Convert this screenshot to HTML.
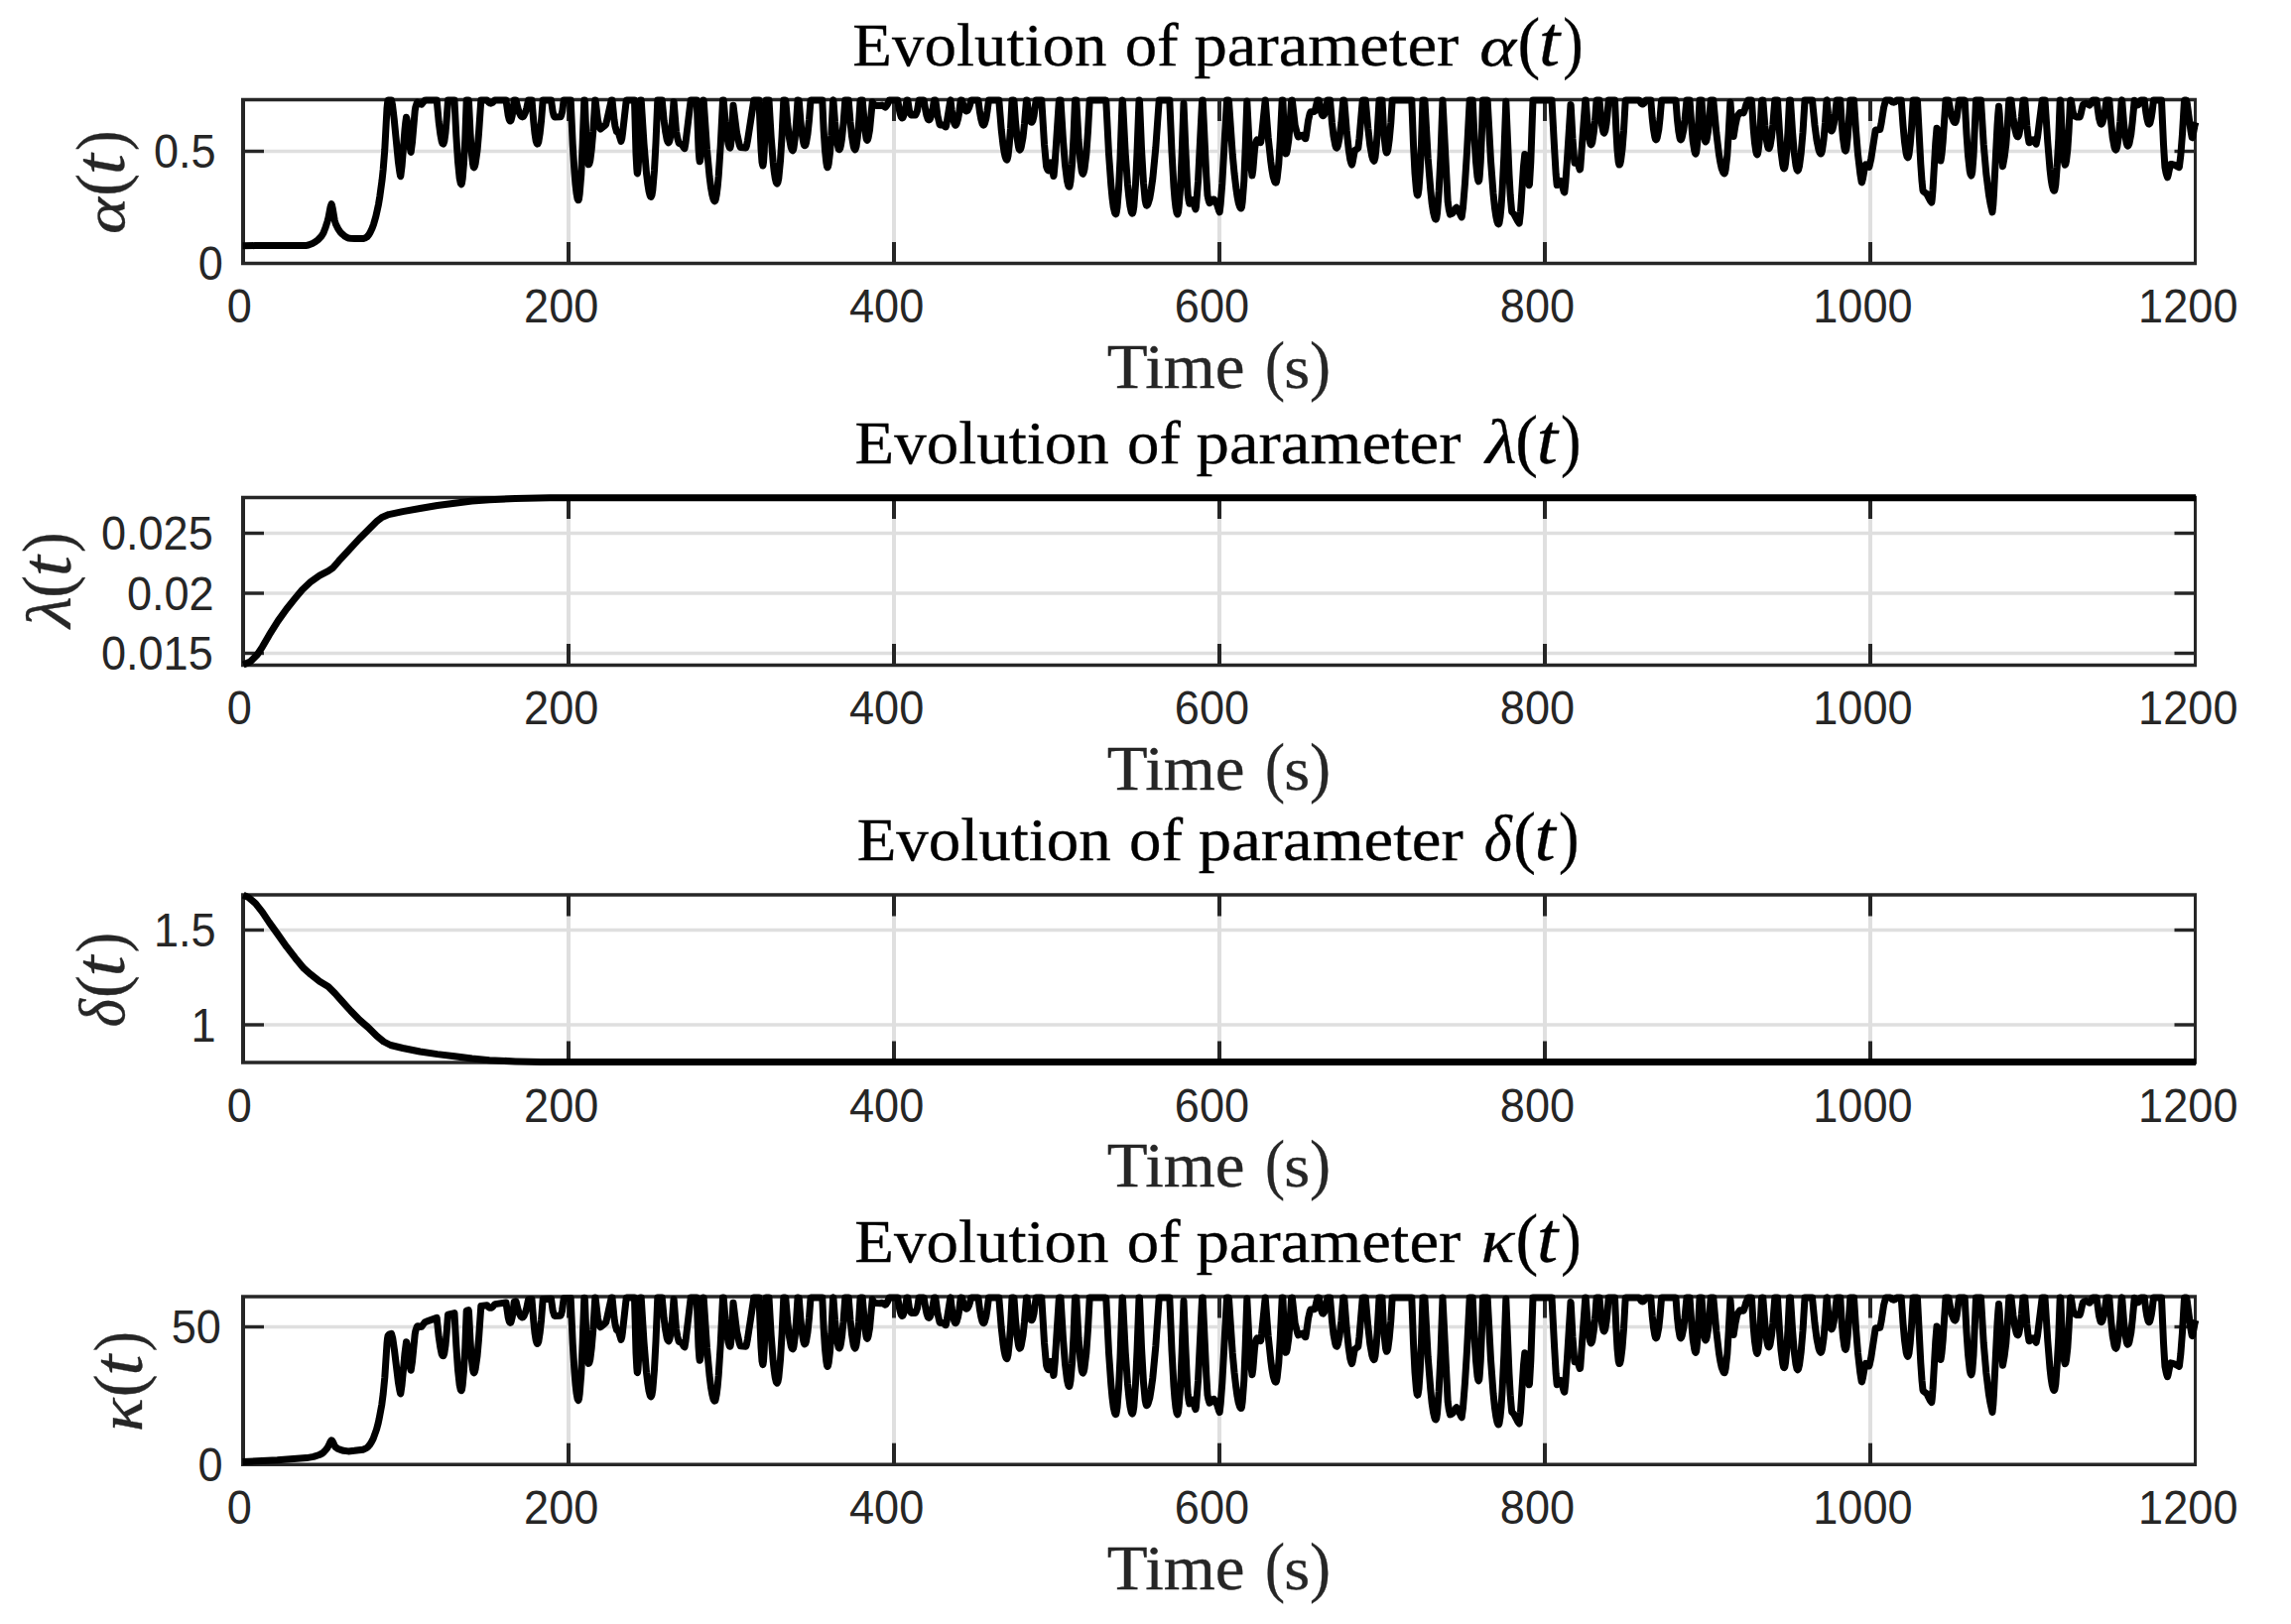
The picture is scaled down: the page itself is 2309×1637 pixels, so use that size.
<!DOCTYPE html>
<html lang="en"><head><meta charset="utf-8"><title>Evolution of parameters</title>
<style>
html,body{margin:0;padding:0;background:#fff;}
body{width:2309px;height:1637px;overflow:hidden;}
svg{display:block;}
text{white-space:pre;}
.tk{font-family:"Liberation Sans","DejaVu Sans",sans-serif;font-size:47.5px;fill:#262626;}
.ser{font-family:"Liberation Serif","DejaVu Serif",serif;}
.it{font-family:"Liberation Serif","DejaVu Serif",serif;font-style:italic;}
.ttl{fill:#000;stroke:#000;stroke-width:0.35;stroke-linejoin:round;}
.lab{fill:#262626;stroke:#262626;stroke-width:0.35;stroke-linejoin:round;}
.axv{stroke:#262626;stroke-width:4.0;fill:none;}
.axh{stroke:#262626;stroke-width:3.4;fill:none;}
.grv{stroke:#dfdfdf;stroke-width:4.0;fill:none;}
.grh{stroke:#dfdfdf;stroke-width:3.4;fill:none;}
.cv{stroke:#000;stroke-width:7.0;fill:none;stroke-linejoin:round;stroke-linecap:butt;}
</style></head><body>
<svg width="2309" height="1637" viewBox="0 0 2309 1637">
<rect width="2309" height="1637" fill="#fff"/>

<g id="ax1">
<line class="grv" x1="573" y1="100.5" x2="573" y2="265.5"/>
<line class="grv" x1="901" y1="100.5" x2="901" y2="265.5"/>
<line class="grv" x1="1229" y1="100.5" x2="1229" y2="265.5"/>
<line class="grv" x1="1557" y1="100.5" x2="1557" y2="265.5"/>
<line class="grv" x1="1885" y1="100.5" x2="1885" y2="265.5"/>
<line class="grh" x1="245.0" y1="152.5" x2="2212.5" y2="152.5"/>
<clipPath id="cp1"><rect x="243.0" y="97.0" width="1973.5" height="172.0"/></clipPath>
<line class="axh" x1="243.0" y1="100.5" x2="2214.0" y2="100.5"/>
<line class="axh" x1="243.0" y1="265.5" x2="2214.0" y2="265.5"/>
<line class="axv" x1="245.0" y1="100.5" x2="245.0" y2="265.5"/>
<line class="axv" style="stroke-width:3" x1="2212.5" y1="100.5" x2="2212.5" y2="265.5"/>
<line class="axv" x1="573" y1="265.5" x2="573" y2="244.0"/>
<line class="axv" x1="573" y1="100.5" x2="573" y2="122.0"/>
<line class="axv" x1="901" y1="265.5" x2="901" y2="244.0"/>
<line class="axv" x1="901" y1="100.5" x2="901" y2="122.0"/>
<line class="axv" x1="1229" y1="265.5" x2="1229" y2="244.0"/>
<line class="axv" x1="1229" y1="100.5" x2="1229" y2="122.0"/>
<line class="axv" x1="1557" y1="265.5" x2="1557" y2="244.0"/>
<line class="axv" x1="1557" y1="100.5" x2="1557" y2="122.0"/>
<line class="axv" x1="1885" y1="265.5" x2="1885" y2="244.0"/>
<line class="axv" x1="1885" y1="100.5" x2="1885" y2="122.0"/>
<line class="axh" x1="245.0" y1="152.5" x2="266.0" y2="152.5"/>
<line class="axh" x1="2212.5" y1="152.5" x2="2191.5" y2="152.5"/>
<polyline class="cv" clip-path="url(#cp1)" points="244.5,247.8 257.0,247.6 308.0,247.6 310.8,247.0 314.8,245.5 317.8,243.8 320.5,241.7 323.8,238.3 325.8,235.2 328.2,228.9 330.0,223.2 331.0,219.4 333.0,208.8 334.0,205.7 334.5,206.8 335.2,209.9 337.2,221.9 338.2,225.4 340.8,230.8 343.2,234.2 345.2,236.2 347.2,237.9 350.0,239.6 351.2,240.1 353.2,240.3 357.8,240.6 365.8,240.6 367.8,240.0 370.0,238.7 371.8,236.5 373.0,234.4 375.0,230.2 376.5,226.3 378.8,218.3 380.2,211.9 381.5,205.9 382.8,198.1 385.0,182.1 386.2,170.8 387.8,150.6 390.0,109.1 390.8,101.6 391.0,100.9 394.5,100.9 395.5,105.7 397.2,119.9 401.5,163.9 402.8,173.4 403.5,177.2 403.8,177.6 405.0,167.9 408.0,130.7 408.8,123.2 409.5,118.2 410.0,119.8 410.8,125.1 413.2,148.6 414.0,153.1 414.2,153.3 415.5,143.3 418.2,111.8 418.8,108.1 420.2,103.8 420.8,103.1 421.0,103.2 423.8,104.9 424.8,105.2 428.0,101.3 430.0,100.9 440.2,100.9 442.2,122.8 443.8,135.1 445.2,142.7 446.0,144.6 446.8,145.1 447.2,144.3 447.8,142.4 449.0,133.8 450.2,119.8 451.5,100.9 458.0,100.9 459.8,136.4 461.5,163.0 463.2,179.8 464.2,184.6 465.0,185.7 465.5,184.6 466.2,179.9 467.5,164.4 468.8,140.0 470.2,100.9 472.2,100.9 472.5,102.6 474.0,134.2 475.2,153.1 476.5,164.8 477.2,168.2 477.8,168.7 478.5,167.5 479.2,164.6 481.0,151.9 482.5,134.6 484.8,100.9 490.8,100.9 492.8,103.3 493.8,103.9 494.8,104.2 496.5,103.4 498.8,100.9 510.0,100.9 512.2,116.4 513.2,120.4 513.8,121.5 514.2,122.0 514.8,121.7 515.2,120.7 516.2,116.6 517.2,110.0 518.2,101.0 520.0,100.9 521.8,108.5 523.2,113.3 525.0,116.8 525.8,117.6 526.5,117.9 527.2,117.6 528.0,116.7 529.5,113.3 530.8,109.0 532.5,100.9 536.0,100.9 537.8,122.6 539.0,134.4 540.2,142.1 541.0,144.5 541.5,145.1 542.0,144.9 542.8,142.9 544.2,134.1 545.5,122.2 547.2,100.9 555.5,100.9 557.2,112.9 558.2,116.5 559.0,117.9 565.0,117.8 565.8,115.9 566.8,111.9 568.2,100.9 575.2,100.9 577.2,145.2 579.0,174.0 580.0,186.1 581.0,194.9 582.0,200.3 582.8,201.8 583.0,201.8 583.5,200.3 584.2,195.3 585.8,175.7 587.2,144.0 588.8,100.9 589.2,100.9 589.5,103.9 590.8,136.5 591.8,154.2 592.5,162.3 593.2,165.7 593.5,165.6 594.0,164.8 594.8,161.9 596.2,150.6 597.8,132.5 599.8,100.9 600.0,100.9 600.2,102.0 602.5,121.2 604.2,128.1 604.8,129.4 605.2,130.0 610.0,126.2 610.8,125.1 616.2,100.9 617.0,100.9 619.0,120.9 620.0,127.4 621.5,132.7 623.5,134.4 626.0,142.4 626.8,139.6 627.5,134.4 631.2,101.4 631.5,100.9 639.5,100.9 641.0,155.2 641.8,170.0 642.2,174.5 642.5,174.8 643.0,171.5 643.8,158.2 645.2,104.1 645.5,100.9 646.2,100.9 649.0,144.6 651.5,174.5 652.8,185.2 654.0,192.8 655.2,197.3 655.8,198.2 656.2,198.4 657.0,196.6 657.8,192.0 659.5,171.7 661.0,144.0 662.8,100.9 667.2,100.9 669.2,121.8 670.8,133.4 672.2,140.8 673.0,142.9 673.8,143.8 674.2,143.5 675.0,141.5 676.2,134.2 677.5,122.4 679.0,102.4 679.2,103.2 681.5,132.3 682.8,139.3 684.2,144.3 684.8,144.7 687.0,145.5 689.2,149.0 690.0,149.6 691.0,143.9 696.2,100.9 702.2,100.9 704.0,149.4 704.8,160.3 705.2,162.8 705.5,162.5 706.0,159.4 706.8,149.5 708.5,103.2 708.8,100.9 709.0,100.9 709.2,101.4 712.5,150.3 715.0,177.5 716.5,189.2 717.8,196.3 719.0,200.9 719.8,202.4 720.2,202.8 720.8,202.4 721.2,201.2 722.2,196.3 723.2,188.4 724.2,177.5 726.2,147.2 728.5,100.9 729.2,100.9 731.0,122.4 732.8,137.8 734.0,144.9 735.0,148.2 735.5,148.9 735.8,149.1 736.0,148.8 736.5,146.5 737.0,141.9 739.0,106.2 742.5,133.6 745.2,146.0 746.2,148.6 751.8,149.1 752.5,146.8 753.5,141.6 759.8,100.9 765.0,100.9 767.0,149.9 768.0,163.4 768.8,167.0 769.0,166.7 769.5,163.5 770.2,152.9 772.2,100.9 775.0,100.9 777.2,138.4 779.2,163.6 780.2,172.8 781.2,179.5 782.2,183.7 782.8,184.7 783.2,185.1 784.0,183.6 784.8,179.7 786.5,162.2 788.0,138.5 789.8,100.9 791.5,100.9 791.8,101.4 793.8,124.7 795.5,139.4 797.2,148.5 798.2,151.1 799.0,151.7 799.5,150.8 800.0,148.9 801.2,139.7 802.5,124.5 804.0,100.9 805.2,101.1 806.8,120.7 808.2,135.1 809.8,143.9 810.5,146.2 811.0,146.8 811.2,146.8 811.8,146.2 812.5,144.0 814.0,135.1 815.5,120.8 817.0,101.2 817.2,100.9 828.8,100.9 830.2,131.9 831.5,151.5 832.8,163.9 833.5,167.8 834.0,168.7 834.5,168.1 835.2,164.9 836.5,154.1 837.8,136.7 839.5,102.0 839.8,100.9 840.0,101.9 841.5,123.0 842.8,136.2 844.0,145.4 845.2,150.2 845.8,150.8 846.0,150.7 846.8,149.3 847.5,146.2 848.5,139.7 850.0,124.9 851.8,100.9 855.2,100.9 857.0,123.0 858.5,137.2 860.2,147.5 861.0,149.8 861.8,150.8 862.2,150.3 863.0,147.8 864.2,139.1 865.5,125.1 867.0,101.7 867.2,100.9 869.2,100.9 871.8,130.9 873.0,139.1 873.5,140.7 874.0,141.2 874.5,140.7 875.2,138.5 876.5,131.2 879.2,102.8 880.5,105.4 881.5,105.9 883.8,106.5 887.0,106.5 889.0,106.1 892.2,108.1 893.0,107.4 894.0,105.9 895.0,104.0 896.2,100.9 904.8,100.9 906.0,109.1 907.0,113.9 908.2,117.8 909.2,119.0 909.8,118.8 910.2,118.1 911.5,114.6 912.5,110.1 914.0,100.9 914.8,100.9 916.5,111.8 917.8,115.0 918.2,115.8 918.8,116.1 922.5,116.0 923.2,114.9 924.5,111.6 926.2,100.9 931.0,100.9 931.2,101.2 932.8,111.0 934.0,116.7 935.2,120.1 935.8,120.7 936.2,120.9 936.8,120.6 937.5,119.5 938.8,115.8 940.0,110.0 941.5,100.9 942.5,100.9 942.8,101.0 945.0,116.7 947.0,125.2 947.5,125.9 950.5,126.0 953.0,128.0 953.2,128.0 953.5,127.2 954.0,124.8 957.8,101.2 958.0,100.9 959.2,111.2 960.5,119.2 961.8,124.3 962.5,125.8 963.0,126.2 963.5,125.9 964.2,124.6 965.5,120.1 966.8,113.0 968.2,101.0 968.5,100.9 969.5,100.9 971.0,106.5 972.0,109.4 973.2,111.5 974.2,112.0 975.2,111.3 976.5,108.9 977.5,105.9 978.8,100.9 985.8,100.9 986.0,101.4 987.5,113.2 988.8,120.3 990.0,124.7 990.8,125.9 991.2,126.2 991.8,125.8 992.5,124.3 993.8,119.6 995.0,112.3 996.5,100.9 1006.8,100.9 1009.2,130.5 1011.0,146.3 1012.0,152.9 1013.0,157.6 1014.0,160.4 1014.8,161.1 1015.2,160.4 1016.0,157.2 1017.2,146.4 1018.5,129.3 1020.0,100.9 1021.8,100.9 1022.0,101.6 1023.5,122.9 1025.0,138.4 1026.5,148.0 1027.2,150.4 1027.8,151.0 1028.5,150.4 1029.2,148.4 1031.0,138.5 1032.5,124.8 1034.5,100.9 1035.0,100.9 1036.5,112.4 1037.8,119.2 1038.8,122.3 1039.2,123.1 1039.8,123.3 1040.2,122.8 1040.8,121.8 1042.0,116.9 1044.2,100.9 1049.8,100.9 1052.5,145.2 1054.5,167.0 1054.8,168.5 1055.5,170.3 1056.2,171.6 1056.8,171.9 1059.2,163.8 1059.8,165.5 1061.8,177.5 1062.0,177.3 1062.2,175.6 1063.2,164.7 1067.2,103.4 1067.5,100.9 1069.0,100.9 1071.5,141.8 1073.5,166.4 1075.5,182.2 1076.5,186.5 1077.0,187.8 1077.5,188.3 1077.8,188.3 1078.2,187.1 1079.0,182.7 1080.5,165.7 1082.0,138.3 1083.5,100.9 1084.8,100.9 1087.0,140.4 1088.8,162.0 1090.2,172.6 1091.0,174.9 1091.5,175.2 1092.2,173.8 1093.0,170.5 1094.8,155.9 1096.5,132.2 1098.2,100.9 1114.5,100.9 1114.8,102.0 1117.5,155.1 1119.8,186.7 1121.0,199.5 1122.2,208.7 1123.5,214.3 1124.0,215.4 1124.5,215.9 1124.8,215.7 1125.2,214.1 1126.0,209.1 1127.5,190.1 1129.0,160.0 1131.0,103.2 1131.2,100.9 1131.5,101.7 1134.2,154.6 1136.5,186.1 1137.8,198.8 1139.0,208.1 1140.2,213.6 1140.8,214.8 1141.2,215.2 1141.5,215.0 1142.0,213.5 1142.8,208.5 1144.5,185.6 1146.0,153.9 1148.0,100.9 1148.2,100.9 1148.5,101.3 1150.5,150.2 1152.5,184.5 1154.2,202.1 1155.0,205.9 1155.5,207.0 1155.8,207.1 1156.5,206.5 1157.2,205.0 1158.8,199.7 1160.2,191.3 1161.8,180.0 1164.8,148.9 1168.2,100.9 1178.8,100.9 1181.0,152.9 1183.0,188.1 1184.0,200.5 1185.0,209.4 1186.0,214.6 1186.8,215.9 1187.5,213.7 1188.2,208.0 1189.8,187.2 1191.2,154.2 1193.0,104.2 1194.8,148.7 1196.5,184.9 1197.2,196.2 1198.0,201.8 1198.8,205.3 1199.5,204.8 1201.2,202.4 1202.0,201.7 1202.8,203.4 1204.2,209.0 1205.0,210.9 1205.5,208.1 1207.5,183.0 1211.5,103.0 1211.8,100.9 1212.2,100.9 1215.8,177.7 1217.0,196.7 1218.0,201.6 1219.0,204.6 1220.0,204.1 1223.0,201.0 1223.5,200.9 1224.2,201.7 1226.5,205.9 1228.5,212.3 1229.2,213.9 1230.2,205.3 1231.8,184.9 1236.5,100.9 1238.2,100.9 1238.5,101.8 1242.2,155.4 1244.0,174.5 1245.8,189.7 1247.0,198.0 1248.2,204.3 1249.5,208.3 1250.2,209.6 1250.8,210.0 1251.0,209.9 1251.5,208.5 1252.2,203.2 1253.8,182.3 1255.2,148.3 1256.8,101.9 1259.2,148.8 1261.0,169.6 1262.0,176.9 1262.8,171.5 1264.5,150.8 1265.0,147.0 1265.5,145.0 1266.2,142.4 1267.0,140.8 1270.2,143.6 1270.5,143.7 1270.8,142.8 1271.5,137.3 1275.2,100.9 1278.2,138.9 1280.8,163.0 1282.0,171.7 1283.2,178.3 1284.5,182.5 1285.2,183.8 1285.8,184.2 1286.0,184.1 1286.5,183.1 1287.2,179.4 1288.8,165.0 1290.2,141.9 1292.2,100.9 1292.8,100.9 1293.0,103.5 1294.5,140.6 1295.2,150.8 1296.0,154.9 1296.5,154.5 1297.2,152.0 1298.8,141.1 1300.0,126.3 1301.5,102.1 1301.8,100.9 1302.2,100.9 1302.5,102.5 1305.2,126.5 1307.8,136.4 1308.5,137.9 1312.5,136.3 1315.5,139.8 1315.8,139.8 1316.0,138.9 1316.5,136.2 1318.5,121.7 1320.2,114.4 1321.0,112.7 1324.8,112.4 1325.0,112.2 1326.2,108.1 1327.8,100.9 1329.2,100.9 1329.5,101.2 1330.5,107.9 1331.5,112.8 1332.5,115.8 1333.0,116.5 1333.5,116.7 1334.5,115.7 1335.8,112.2 1338.0,100.9 1340.5,100.9 1342.5,124.1 1344.0,137.2 1345.8,146.6 1346.5,148.5 1347.2,149.1 1347.8,148.5 1348.5,146.6 1350.0,139.0 1351.8,124.3 1353.8,100.9 1354.5,100.9 1354.8,101.2 1357.2,131.4 1359.2,150.4 1360.8,161.1 1361.8,164.5 1362.5,166.0 1363.2,163.7 1364.8,154.7 1365.5,151.5 1368.5,149.6 1368.8,149.3 1369.0,147.9 1370.0,139.4 1373.2,101.8 1373.5,100.9 1376.2,100.9 1378.8,129.3 1380.8,146.7 1382.8,157.8 1383.8,160.9 1384.8,162.2 1385.2,161.7 1386.0,158.6 1387.2,147.2 1388.2,132.9 1390.0,100.9 1393.0,100.9 1394.2,125.0 1395.2,139.2 1396.5,150.5 1397.0,152.9 1397.5,153.9 1398.0,153.5 1398.8,151.3 1400.2,141.1 1401.8,124.0 1403.2,100.9 1422.8,100.9 1424.5,145.4 1426.0,174.4 1427.5,191.9 1428.2,196.0 1428.8,196.9 1429.2,195.8 1430.0,190.5 1431.2,173.3 1432.5,145.9 1434.0,100.9 1435.8,100.9 1436.0,101.9 1439.2,159.5 1441.8,191.4 1443.2,205.3 1444.5,213.6 1445.8,219.0 1446.5,220.7 1447.0,221.1 1447.2,221.0 1447.8,219.6 1448.5,215.0 1450.2,193.0 1452.0,156.3 1454.0,100.9 1458.8,196.1 1459.2,203.6 1460.2,210.6 1461.5,216.1 1462.8,215.6 1464.2,214.7 1467.2,209.9 1468.0,209.2 1468.2,209.4 1469.5,211.3 1472.5,217.7 1473.2,218.9 1474.5,209.3 1476.5,184.5 1478.5,152.7 1481.2,100.9 1484.2,100.9 1486.2,142.8 1487.5,163.0 1489.0,178.3 1489.8,182.0 1490.2,182.9 1490.8,181.6 1491.2,177.9 1492.2,163.6 1493.2,140.6 1494.5,100.9 1499.0,100.9 1499.2,102.0 1502.5,161.9 1505.0,195.1 1506.5,209.5 1507.8,218.2 1509.0,223.7 1509.8,225.5 1510.2,225.9 1510.5,225.8 1511.0,224.7 1512.0,218.7 1513.0,208.2 1514.0,193.4 1515.8,157.8 1517.8,102.2 1521.0,176.0 1522.2,196.9 1523.5,211.8 1523.8,213.6 1525.8,215.6 1529.8,223.2 1531.2,225.0 1532.5,213.6 1535.5,167.5 1536.8,155.4 1537.2,157.1 1538.0,162.0 1540.5,182.9 1541.2,186.7 1541.5,185.6 1542.8,163.4 1545.0,100.9 1564.0,100.9 1566.5,147.7 1568.2,176.1 1569.0,184.9 1569.2,186.6 1570.0,186.0 1572.2,182.9 1572.8,182.5 1573.0,182.8 1574.0,185.5 1575.8,191.8 1576.2,193.2 1576.8,193.8 1577.8,184.7 1579.5,160.7 1583.0,105.4 1583.2,106.2 1585.0,140.0 1586.8,163.0 1587.0,164.1 1589.0,162.6 1589.5,162.5 1592.2,170.8 1592.5,170.7 1592.8,168.8 1593.2,163.3 1597.8,100.9 1598.2,100.9 1600.0,124.2 1601.2,136.3 1602.5,143.6 1603.0,145.2 1603.5,145.8 1604.0,145.4 1604.8,143.4 1606.2,134.3 1607.5,122.0 1609.0,101.8 1609.2,100.9 1612.0,100.9 1613.5,117.7 1614.5,126.1 1615.8,132.5 1616.2,133.7 1616.8,134.0 1617.2,133.3 1617.8,131.8 1619.0,124.8 1620.0,115.8 1621.2,100.9 1627.5,100.9 1628.8,130.0 1630.0,151.2 1631.2,163.4 1631.8,165.6 1632.0,166.1 1632.2,166.1 1632.8,165.2 1633.5,162.2 1635.0,150.6 1636.5,131.8 1638.2,101.1 1638.5,100.9 1652.0,100.9 1654.0,104.1 1654.8,104.7 1655.5,105.0 1656.2,104.7 1657.0,104.0 1658.8,100.9 1663.8,100.9 1665.2,118.9 1666.5,130.5 1667.8,137.9 1668.5,140.2 1669.0,140.8 1669.5,140.5 1670.2,138.7 1671.8,130.6 1673.0,119.7 1674.5,101.9 1674.8,100.9 1688.8,100.9 1689.0,101.3 1690.5,120.9 1691.8,132.4 1693.0,139.1 1693.5,140.4 1694.0,140.8 1694.5,140.4 1695.2,138.6 1696.8,131.1 1698.0,121.2 1700.0,100.9 1703.0,100.9 1704.8,125.8 1706.2,142.2 1707.8,152.1 1708.5,154.5 1709.0,155.0 1709.5,153.9 1710.0,151.0 1711.0,140.1 1713.0,100.9 1715.0,100.9 1717.0,131.7 1718.0,140.0 1718.5,142.2 1719.0,142.9 1719.5,142.4 1720.2,140.0 1721.5,132.3 1722.8,120.2 1724.2,100.9 1726.8,100.9 1729.8,133.5 1732.5,155.8 1734.0,164.6 1735.2,169.9 1736.8,173.8 1737.5,174.7 1738.0,174.9 1738.5,174.1 1739.2,170.7 1740.8,156.9 1742.2,134.2 1743.8,103.1 1744.0,103.4 1746.0,129.6 1746.8,136.1 1747.0,137.5 1747.2,137.5 1749.0,126.2 1750.5,119.2 1751.2,116.9 1752.8,114.5 1753.8,113.4 1757.2,113.9 1758.0,112.1 1759.8,105.7 1761.8,101.0 1765.2,100.9 1765.5,101.9 1767.2,130.0 1768.5,144.1 1769.8,152.9 1770.5,155.4 1771.0,155.9 1771.5,154.9 1772.0,152.5 1773.0,143.9 1774.2,126.4 1775.5,101.6 1775.8,100.9 1776.8,100.9 1778.8,126.5 1780.2,140.3 1781.5,147.2 1782.2,149.3 1782.8,149.7 1783.2,149.3 1784.0,147.1 1785.5,138.1 1786.8,126.1 1788.8,100.9 1791.5,100.9 1793.5,133.4 1795.0,152.5 1796.8,166.2 1797.5,169.1 1798.0,170.0 1798.2,170.0 1798.8,169.0 1799.5,165.0 1800.8,152.2 1802.0,132.2 1803.5,100.9 1804.5,100.9 1806.5,132.3 1808.2,153.4 1810.0,166.9 1811.0,170.9 1811.8,172.0 1812.5,171.2 1813.5,167.4 1815.2,154.5 1817.0,133.7 1819.0,101.0 1826.5,100.9 1829.0,126.2 1831.0,141.4 1833.0,151.1 1834.0,153.8 1835.0,155.0 1835.2,154.9 1835.8,154.2 1836.5,151.5 1838.0,141.0 1839.5,124.1 1841.0,101.0 1841.2,100.9 1842.5,114.9 1843.8,125.0 1844.8,130.0 1845.2,131.4 1845.8,132.0 1846.2,131.8 1847.0,130.3 1848.2,125.0 1849.5,116.4 1851.2,100.9 1854.8,100.9 1856.2,125.1 1857.5,139.6 1858.8,148.8 1859.5,151.5 1860.0,152.1 1860.5,151.3 1861.0,149.2 1862.2,138.7 1864.8,100.9 1868.5,100.9 1870.5,131.3 1872.5,155.5 1874.8,175.2 1876.0,182.5 1876.2,183.7 1876.5,183.9 1877.5,179.8 1879.5,168.4 1880.2,165.8 1881.0,166.1 1883.8,168.3 1884.2,167.1 1885.8,159.9 1890.2,131.4 1890.5,131.0 1894.8,130.5 1896.0,124.8 1898.5,108.7 1900.5,101.2 1900.8,100.9 1905.0,100.9 1907.0,102.8 1908.5,103.2 1910.0,102.7 1911.8,100.9 1916.2,100.9 1918.0,126.2 1919.5,142.7 1921.2,154.9 1922.0,157.7 1922.8,158.9 1923.2,158.5 1924.0,155.6 1925.2,145.7 1926.5,129.6 1928.2,100.9 1932.2,100.9 1932.5,102.2 1935.8,165.2 1937.0,182.4 1938.0,192.0 1938.5,193.0 1941.8,195.4 1945.2,202.0 1946.8,204.0 1947.2,201.0 1948.0,191.8 1950.8,143.7 1952.0,129.3 1952.2,129.5 1952.8,132.6 1955.0,155.3 1956.0,162.0 1957.0,155.4 1958.2,142.6 1961.0,100.9 1963.8,100.9 1965.8,111.7 1967.2,117.9 1969.0,122.3 1969.8,123.3 1970.5,123.5 1971.2,122.4 1972.2,118.2 1974.5,100.9 1980.0,100.9 1980.2,101.2 1982.0,135.1 1983.5,156.5 1985.2,172.2 1986.0,175.6 1986.8,177.0 1987.2,176.0 1987.8,173.0 1989.0,157.8 1991.5,100.9 1996.5,100.9 1999.2,145.5 2001.8,175.0 2004.5,196.6 2006.0,205.1 2008.0,213.9 2008.8,206.6 2009.5,195.5 2013.0,126.1 2013.8,114.8 2014.5,107.3 2015.2,114.5 2017.5,156.2 2018.5,167.7 2020.2,158.2 2021.8,145.6 2023.2,127.1 2024.8,101.0 2025.0,100.9 2027.0,100.9 2029.0,118.5 2030.5,128.7 2032.2,135.9 2033.0,137.5 2033.8,137.9 2034.2,137.4 2035.0,135.2 2036.2,128.2 2037.5,117.4 2039.0,100.9 2040.8,100.9 2042.8,126.8 2044.0,137.8 2045.0,143.7 2045.2,143.8 2045.8,143.5 2048.0,141.4 2049.0,140.8 2052.2,145.1 2053.5,138.4 2058.2,100.9 2061.0,100.9 2063.8,143.6 2066.0,170.3 2067.2,180.8 2068.2,186.8 2069.2,190.7 2069.8,191.8 2070.2,192.3 2070.5,192.2 2071.0,190.8 2071.8,186.2 2073.2,168.2 2074.8,139.3 2076.2,100.9 2076.8,101.1 2078.0,130.6 2079.2,151.6 2080.2,161.9 2080.8,164.8 2081.2,166.1 2081.8,165.6 2082.5,162.3 2083.8,151.0 2085.0,132.9 2086.5,102.4 2086.8,100.9 2087.2,100.9 2087.5,102.0 2089.0,111.7 2090.0,116.0 2091.8,117.4 2093.2,118.0 2096.0,118.0 2096.2,117.8 2097.0,115.4 2098.8,107.4 2099.5,105.4 2101.2,104.6 2102.8,104.2 2106.0,106.1 2107.5,104.3 2109.2,100.9 2113.0,100.9 2115.5,119.0 2116.8,123.8 2117.2,124.8 2117.8,125.1 2118.2,124.8 2119.0,123.5 2120.2,119.1 2121.5,112.2 2123.0,100.9 2125.8,100.9 2127.8,124.9 2129.2,138.6 2131.0,148.4 2131.8,150.4 2132.5,151.0 2133.0,150.4 2133.8,148.0 2135.2,138.4 2136.8,122.8 2138.2,101.5 2138.5,100.9 2138.8,101.9 2140.5,124.2 2141.8,135.7 2143.2,144.4 2144.0,146.6 2144.5,147.1 2145.2,146.5 2146.0,144.6 2147.8,135.4 2149.2,122.7 2151.2,101.3 2153.0,104.9 2153.8,105.6 2154.5,105.9 2155.2,105.5 2156.0,104.6 2157.8,100.9 2161.2,100.9 2162.8,113.1 2163.8,119.3 2165.0,124.0 2165.5,124.9 2166.0,125.1 2166.5,124.6 2167.0,123.6 2168.2,118.4 2169.2,111.9 2170.5,100.9 2178.5,100.9 2180.5,145.4 2181.8,166.5 2182.0,168.9 2183.0,174.0 2183.8,176.9 2184.5,178.8 2185.2,176.5 2187.0,167.8 2187.8,165.4 2189.0,165.5 2191.8,166.4 2196.0,168.6 2196.2,168.7 2196.5,167.7 2197.8,156.9 2199.5,135.2 2201.5,101.2 2201.8,100.9 2203.5,100.9 2204.2,103.8 2208.0,132.1 2209.2,138.5 2209.5,138.7 2210.0,137.1 2212.0,126.4 2213.0,123.2"/>
<text class="tk" text-anchor="middle" transform="translate(241.2,325.0) scale(0.95,1)">0</text>
<text class="tk" text-anchor="middle" transform="translate(565.7,325.0) scale(0.95,1)">200</text>
<text class="tk" text-anchor="middle" transform="translate(893.6,325.0) scale(0.95,1)">400</text>
<text class="tk" text-anchor="middle" transform="translate(1221.5,325.0) scale(0.95,1)">600</text>
<text class="tk" text-anchor="middle" transform="translate(1549.5,325.0) scale(0.95,1)">800</text>
<text class="tk" text-anchor="middle" transform="translate(1877.4,325.0) scale(0.95,1)">1000</text>
<text class="tk" text-anchor="middle" transform="translate(2205.3,325.0) scale(0.95,1)">1200</text>
<text class="tk" text-anchor="end" transform="translate(217.6,169.1) scale(0.95,1)">0.5</text>
<text class="tk" text-anchor="end" transform="translate(224.8,282.1) scale(0.95,1)">0</text>
<text class="ser ttl" y="65.90"><tspan x="859.35" font-size="61.5" textLength="256.09" lengthAdjust="spacingAndGlyphs">Evolution</tspan> <tspan x="1133.71" font-size="61.5" textLength="53.96" lengthAdjust="spacingAndGlyphs">of</tspan> <tspan x="1203.40" font-size="61.5" textLength="266.87" lengthAdjust="spacingAndGlyphs">parameter</tspan> <tspan class="it" x="1491.19" font-size="58" textLength="36.85" lengthAdjust="spacingAndGlyphs">α</tspan><tspan x="1529.53" font-size="70" textLength="22.72" lengthAdjust="spacingAndGlyphs">(</tspan><tspan class="it" x="1550.98" font-size="72" textLength="21.15" lengthAdjust="spacingAndGlyphs">t</tspan><tspan x="1575.27" font-size="70" textLength="20.36" lengthAdjust="spacingAndGlyphs">)</tspan></text>
<text class="ser lab" y="390.90"><tspan x="1115.66" font-size="62.5" textLength="138.78" lengthAdjust="spacingAndGlyphs">Time</tspan> <tspan x="1274.90" font-size="68.5" textLength="19.98" lengthAdjust="spacingAndGlyphs">(</tspan><tspan x="1294.23" font-size="61.5" textLength="25.93" lengthAdjust="spacingAndGlyphs">s</tspan><tspan x="1320.01" font-size="68.5" textLength="21.00" lengthAdjust="spacingAndGlyphs">)</tspan></text>
<text class="ser lab" y="0" transform="translate(125,233.9) rotate(-90)"><tspan class="it" x="-2.11" font-size="58" textLength="36.85" lengthAdjust="spacingAndGlyphs">α</tspan><tspan x="36.23" font-size="70" textLength="22.72" lengthAdjust="spacingAndGlyphs">(</tspan><tspan class="it" x="57.68" font-size="72" textLength="21.15" lengthAdjust="spacingAndGlyphs">t</tspan><tspan x="81.97" font-size="70" textLength="20.36" lengthAdjust="spacingAndGlyphs">)</tspan></text>
</g>
<g id="ax2">
<line class="grv" x1="573" y1="501.5" x2="573" y2="670.5"/>
<line class="grv" x1="901" y1="501.5" x2="901" y2="670.5"/>
<line class="grv" x1="1229" y1="501.5" x2="1229" y2="670.5"/>
<line class="grv" x1="1557" y1="501.5" x2="1557" y2="670.5"/>
<line class="grv" x1="1885" y1="501.5" x2="1885" y2="670.5"/>
<line class="grh" x1="245.0" y1="537.5" x2="2212.5" y2="537.5"/>
<line class="grh" x1="245.0" y1="598.0" x2="2212.5" y2="598.0"/>
<line class="grh" x1="245.0" y1="658.5" x2="2212.5" y2="658.5"/>
<clipPath id="cp2"><rect x="243.0" y="498.0" width="1973.5" height="176.0"/></clipPath>
<line class="axh" x1="243.0" y1="501.5" x2="2214.0" y2="501.5"/>
<line class="axh" x1="243.0" y1="670.5" x2="2214.0" y2="670.5"/>
<line class="axv" x1="245.0" y1="501.5" x2="245.0" y2="670.5"/>
<line class="axv" style="stroke-width:3" x1="2212.5" y1="501.5" x2="2212.5" y2="670.5"/>
<line class="axv" x1="573" y1="670.5" x2="573" y2="649.0"/>
<line class="axv" x1="573" y1="501.5" x2="573" y2="523.0"/>
<line class="axv" x1="901" y1="670.5" x2="901" y2="649.0"/>
<line class="axv" x1="901" y1="501.5" x2="901" y2="523.0"/>
<line class="axv" x1="1229" y1="670.5" x2="1229" y2="649.0"/>
<line class="axv" x1="1229" y1="501.5" x2="1229" y2="523.0"/>
<line class="axv" x1="1557" y1="670.5" x2="1557" y2="649.0"/>
<line class="axv" x1="1557" y1="501.5" x2="1557" y2="523.0"/>
<line class="axv" x1="1885" y1="670.5" x2="1885" y2="649.0"/>
<line class="axv" x1="1885" y1="501.5" x2="1885" y2="523.0"/>
<line class="axh" x1="245.0" y1="537.5" x2="266.0" y2="537.5"/>
<line class="axh" x1="2212.5" y1="537.5" x2="2191.5" y2="537.5"/>
<line class="axh" x1="245.0" y1="598.0" x2="266.0" y2="598.0"/>
<line class="axh" x1="2212.5" y1="598.0" x2="2191.5" y2="598.0"/>
<line class="axh" x1="245.0" y1="658.5" x2="266.0" y2="658.5"/>
<line class="axh" x1="2212.5" y1="658.5" x2="2191.5" y2="658.5"/>
<polyline class="cv" clip-path="url(#cp2)" points="245.2,669.9 252.2,667.0 259.2,660.0 264.4,652.1 271.4,639.9 280.2,625.9 288.9,613.7 297.6,602.9 304.6,594.5 313.3,586.3 322.1,580.2 330.8,575.7 335.2,572.7 341.3,565.7 351.7,554.4 362.2,543.0 372.7,532.5 379.7,525.6 384.9,521.5 391.9,518.6 405.9,515.6 423.3,512.5 440.8,509.5 458.2,507.2 475.7,505.1 493.2,503.7 519.4,502.5 554.3,501.8 2213.0,501.8"/>
<text class="tk" text-anchor="middle" transform="translate(241.2,730.0) scale(0.95,1)">0</text>
<text class="tk" text-anchor="middle" transform="translate(565.7,730.0) scale(0.95,1)">200</text>
<text class="tk" text-anchor="middle" transform="translate(893.6,730.0) scale(0.95,1)">400</text>
<text class="tk" text-anchor="middle" transform="translate(1221.5,730.0) scale(0.95,1)">600</text>
<text class="tk" text-anchor="middle" transform="translate(1549.5,730.0) scale(0.95,1)">800</text>
<text class="tk" text-anchor="middle" transform="translate(1877.4,730.0) scale(0.95,1)">1000</text>
<text class="tk" text-anchor="middle" transform="translate(2205.3,730.0) scale(0.95,1)">1200</text>
<text class="tk" text-anchor="end" transform="translate(214.8,554.1) scale(0.95,1)">0.025</text>
<text class="tk" text-anchor="end" transform="translate(215.7,614.6) scale(0.95,1)">0.02</text>
<text class="tk" text-anchor="end" transform="translate(214.8,675.1) scale(0.95,1)">0.015</text>
<text class="ser ttl" y="466.90"><tspan x="861.55" font-size="61.5" textLength="256.09" lengthAdjust="spacingAndGlyphs">Evolution</tspan> <tspan x="1135.91" font-size="61.5" textLength="53.96" lengthAdjust="spacingAndGlyphs">of</tspan> <tspan x="1205.60" font-size="61.5" textLength="266.87" lengthAdjust="spacingAndGlyphs">parameter</tspan> <tspan class="it" x="1497.30" font-size="63" textLength="31.26" lengthAdjust="spacingAndGlyphs">λ</tspan><tspan x="1527.33" font-size="70" textLength="22.72" lengthAdjust="spacingAndGlyphs">(</tspan><tspan class="it" x="1548.78" font-size="72" textLength="21.15" lengthAdjust="spacingAndGlyphs">t</tspan><tspan x="1573.07" font-size="70" textLength="20.36" lengthAdjust="spacingAndGlyphs">)</tspan></text>
<text class="ser lab" y="795.90"><tspan x="1115.66" font-size="62.5" textLength="138.78" lengthAdjust="spacingAndGlyphs">Time</tspan> <tspan x="1274.90" font-size="68.5" textLength="19.98" lengthAdjust="spacingAndGlyphs">(</tspan><tspan x="1294.23" font-size="61.5" textLength="25.93" lengthAdjust="spacingAndGlyphs">s</tspan><tspan x="1320.01" font-size="68.5" textLength="21.00" lengthAdjust="spacingAndGlyphs">)</tspan></text>
<text class="ser lab" y="0" transform="translate(71,634.5) rotate(-90)"><tspan class="it" x="1.80" font-size="63" textLength="31.26" lengthAdjust="spacingAndGlyphs">λ</tspan><tspan x="31.83" font-size="70" textLength="22.72" lengthAdjust="spacingAndGlyphs">(</tspan><tspan class="it" x="53.28" font-size="72" textLength="21.15" lengthAdjust="spacingAndGlyphs">t</tspan><tspan x="77.57" font-size="70" textLength="20.36" lengthAdjust="spacingAndGlyphs">)</tspan></text>
</g>
<g id="ax3">
<line class="grv" x1="573" y1="902.0" x2="573" y2="1071.0"/>
<line class="grv" x1="901" y1="902.0" x2="901" y2="1071.0"/>
<line class="grv" x1="1229" y1="902.0" x2="1229" y2="1071.0"/>
<line class="grv" x1="1557" y1="902.0" x2="1557" y2="1071.0"/>
<line class="grv" x1="1885" y1="902.0" x2="1885" y2="1071.0"/>
<line class="grh" x1="245.0" y1="937.5" x2="2212.5" y2="937.5"/>
<line class="grh" x1="245.0" y1="1033.0" x2="2212.5" y2="1033.0"/>
<clipPath id="cp3"><rect x="243.0" y="898.5" width="1973.5" height="176.0"/></clipPath>
<line class="axh" x1="243.0" y1="902.0" x2="2214.0" y2="902.0"/>
<line class="axh" x1="243.0" y1="1071.0" x2="2214.0" y2="1071.0"/>
<line class="axv" x1="245.0" y1="902.0" x2="245.0" y2="1071.0"/>
<line class="axv" style="stroke-width:3" x1="2212.5" y1="902.0" x2="2212.5" y2="1071.0"/>
<line class="axv" x1="573" y1="1071.0" x2="573" y2="1049.5"/>
<line class="axv" x1="573" y1="902.0" x2="573" y2="923.5"/>
<line class="axv" x1="901" y1="1071.0" x2="901" y2="1049.5"/>
<line class="axv" x1="901" y1="902.0" x2="901" y2="923.5"/>
<line class="axv" x1="1229" y1="1071.0" x2="1229" y2="1049.5"/>
<line class="axv" x1="1229" y1="902.0" x2="1229" y2="923.5"/>
<line class="axv" x1="1557" y1="1071.0" x2="1557" y2="1049.5"/>
<line class="axv" x1="1557" y1="902.0" x2="1557" y2="923.5"/>
<line class="axv" x1="1885" y1="1071.0" x2="1885" y2="1049.5"/>
<line class="axv" x1="1885" y1="902.0" x2="1885" y2="923.5"/>
<line class="axh" x1="245.0" y1="937.5" x2="266.0" y2="937.5"/>
<line class="axh" x1="2212.5" y1="937.5" x2="2191.5" y2="937.5"/>
<line class="axh" x1="245.0" y1="1033.0" x2="266.0" y2="1033.0"/>
<line class="axh" x1="2212.5" y1="1033.0" x2="2191.5" y2="1033.0"/>
<polyline class="cv" clip-path="url(#cp3)" points="245.2,902.3 250.5,904.6 257.5,910.7 264.4,919.4 271.4,929.9 280.2,942.1 288.9,954.4 297.6,965.7 306.3,976.2 313.3,982.3 322.1,989.3 330.8,994.5 337.8,1001.5 344.8,1009.4 353.5,1019.0 362.2,1028.0 370.9,1035.5 379.7,1044.3 386.7,1050.0 393.6,1053.5 405.9,1056.5 423.3,1060.0 440.8,1062.6 458.2,1064.7 475.7,1067.0 493.2,1068.7 519.4,1069.9 545.5,1070.6 2213.0,1070.6"/>
<text class="tk" text-anchor="middle" transform="translate(241.2,1130.5) scale(0.95,1)">0</text>
<text class="tk" text-anchor="middle" transform="translate(565.7,1130.5) scale(0.95,1)">200</text>
<text class="tk" text-anchor="middle" transform="translate(893.6,1130.5) scale(0.95,1)">400</text>
<text class="tk" text-anchor="middle" transform="translate(1221.5,1130.5) scale(0.95,1)">600</text>
<text class="tk" text-anchor="middle" transform="translate(1549.5,1130.5) scale(0.95,1)">800</text>
<text class="tk" text-anchor="middle" transform="translate(1877.4,1130.5) scale(0.95,1)">1000</text>
<text class="tk" text-anchor="middle" transform="translate(2205.3,1130.5) scale(0.95,1)">1200</text>
<text class="tk" text-anchor="end" transform="translate(217.6,954.1) scale(0.95,1)">1.5</text>
<text class="tk" text-anchor="end" transform="translate(217.6,1049.6) scale(0.95,1)">1</text>
<text class="ser ttl" y="867.40"><tspan x="863.70" font-size="61.5" textLength="256.09" lengthAdjust="spacingAndGlyphs">Evolution</tspan> <tspan x="1138.06" font-size="61.5" textLength="53.96" lengthAdjust="spacingAndGlyphs">of</tspan> <tspan x="1207.75" font-size="61.5" textLength="266.87" lengthAdjust="spacingAndGlyphs">parameter</tspan> <tspan class="it" x="1495.84" font-size="66" textLength="28.00" lengthAdjust="spacingAndGlyphs">δ</tspan><tspan x="1525.18" font-size="70" textLength="22.72" lengthAdjust="spacingAndGlyphs">(</tspan><tspan class="it" x="1546.63" font-size="72" textLength="21.15" lengthAdjust="spacingAndGlyphs">t</tspan><tspan x="1570.92" font-size="70" textLength="20.36" lengthAdjust="spacingAndGlyphs">)</tspan></text>
<text class="ser lab" y="1196.40"><tspan x="1115.66" font-size="62.5" textLength="138.78" lengthAdjust="spacingAndGlyphs">Time</tspan> <tspan x="1274.90" font-size="68.5" textLength="19.98" lengthAdjust="spacingAndGlyphs">(</tspan><tspan x="1294.23" font-size="61.5" textLength="25.93" lengthAdjust="spacingAndGlyphs">s</tspan><tspan x="1320.01" font-size="68.5" textLength="21.00" lengthAdjust="spacingAndGlyphs">)</tspan></text>
<text class="ser lab" y="0" transform="translate(125,1033.4) rotate(-90)"><tspan class="it" x="-1.81" font-size="66" textLength="28.00" lengthAdjust="spacingAndGlyphs">δ</tspan><tspan x="27.53" font-size="70" textLength="22.72" lengthAdjust="spacingAndGlyphs">(</tspan><tspan class="it" x="48.98" font-size="72" textLength="21.15" lengthAdjust="spacingAndGlyphs">t</tspan><tspan x="73.27" font-size="70" textLength="20.36" lengthAdjust="spacingAndGlyphs">)</tspan></text>
</g>
<g id="ax4">
<line class="grv" x1="573" y1="1307.0" x2="573" y2="1476.2"/>
<line class="grv" x1="901" y1="1307.0" x2="901" y2="1476.2"/>
<line class="grv" x1="1229" y1="1307.0" x2="1229" y2="1476.2"/>
<line class="grv" x1="1557" y1="1307.0" x2="1557" y2="1476.2"/>
<line class="grv" x1="1885" y1="1307.0" x2="1885" y2="1476.2"/>
<line class="grh" x1="245.0" y1="1337.5" x2="2212.5" y2="1337.5"/>
<clipPath id="cp4"><rect x="243.0" y="1303.5" width="1973.5" height="176.20000000000005"/></clipPath>
<line class="axh" x1="243.0" y1="1307.0" x2="2214.0" y2="1307.0"/>
<line class="axh" x1="243.0" y1="1476.2" x2="2214.0" y2="1476.2"/>
<line class="axv" x1="245.0" y1="1307.0" x2="245.0" y2="1476.2"/>
<line class="axv" style="stroke-width:3" x1="2212.5" y1="1307.0" x2="2212.5" y2="1476.2"/>
<line class="axv" x1="573" y1="1476.2" x2="573" y2="1454.7"/>
<line class="axv" x1="573" y1="1307.0" x2="573" y2="1328.5"/>
<line class="axv" x1="901" y1="1476.2" x2="901" y2="1454.7"/>
<line class="axv" x1="901" y1="1307.0" x2="901" y2="1328.5"/>
<line class="axv" x1="1229" y1="1476.2" x2="1229" y2="1454.7"/>
<line class="axv" x1="1229" y1="1307.0" x2="1229" y2="1328.5"/>
<line class="axv" x1="1557" y1="1476.2" x2="1557" y2="1454.7"/>
<line class="axv" x1="1557" y1="1307.0" x2="1557" y2="1328.5"/>
<line class="axv" x1="1885" y1="1476.2" x2="1885" y2="1454.7"/>
<line class="axv" x1="1885" y1="1307.0" x2="1885" y2="1328.5"/>
<line class="axh" x1="245.0" y1="1337.5" x2="266.0" y2="1337.5"/>
<line class="axh" x1="2212.5" y1="1337.5" x2="2191.5" y2="1337.5"/>
<polyline class="cv" clip-path="url(#cp4)" points="244.5,1473.6 279.5,1471.8 309.0,1469.6 316.0,1468.4 321.8,1466.5 324.8,1465.0 326.0,1464.0 328.2,1461.7 330.0,1459.3 331.0,1457.6 333.0,1453.2 334.0,1451.8 334.5,1452.1 335.5,1453.5 337.5,1457.9 338.8,1459.2 340.2,1460.2 341.8,1460.9 346.2,1462.3 351.0,1462.9 357.2,1462.3 365.8,1461.2 369.5,1459.6 370.8,1458.6 372.5,1456.6 374.5,1453.4 376.2,1450.1 379.5,1440.9 381.2,1434.5 382.2,1429.8 384.8,1415.8 386.2,1405.0 387.8,1388.5 390.0,1354.2 390.5,1349.3 391.0,1346.6 392.5,1344.8 394.5,1344.3 395.8,1349.2 397.5,1361.0 401.5,1394.0 402.8,1401.5 403.5,1404.5 403.8,1404.8 405.0,1396.4 408.0,1364.1 409.5,1352.8 409.8,1353.0 410.0,1353.9 410.8,1358.2 413.2,1377.5 414.0,1381.1 414.2,1381.2 415.5,1372.5 418.2,1344.9 418.8,1341.6 420.2,1337.5 420.8,1336.8 421.0,1336.7 423.8,1337.4 424.8,1337.3 428.0,1333.0 429.8,1332.1 440.2,1328.4 442.2,1347.6 443.8,1358.3 445.2,1364.9 446.0,1366.5 446.5,1366.8 446.8,1366.8 447.2,1365.9 447.8,1364.1 449.0,1356.0 450.2,1342.8 451.5,1325.1 458.0,1323.6 459.8,1356.3 461.5,1380.9 463.2,1396.3 464.2,1400.7 464.8,1401.6 465.0,1401.7 465.5,1400.6 466.2,1396.1 467.5,1381.4 468.8,1358.3 470.2,1321.1 472.2,1320.6 472.5,1322.1 474.0,1351.7 475.2,1369.3 476.5,1380.3 477.2,1383.3 477.8,1383.8 478.5,1382.5 479.2,1379.6 481.0,1366.9 482.5,1349.9 484.8,1316.5 490.8,1315.7 492.8,1317.8 493.8,1318.3 494.8,1318.3 496.5,1317.4 498.8,1314.6 510.0,1313.0 512.2,1328.1 513.2,1332.0 513.8,1333.0 514.2,1333.4 514.8,1333.1 515.2,1332.0 516.2,1327.9 517.2,1321.2 518.2,1312.1 520.0,1311.7 521.8,1319.1 523.2,1323.7 525.0,1327.0 525.8,1327.7 526.5,1328.0 527.2,1327.6 528.0,1326.6 529.5,1323.0 530.8,1318.4 532.5,1310.0 534.8,1309.8 536.0,1309.7 537.8,1331.7 539.0,1343.6 540.2,1351.3 541.0,1353.8 541.5,1354.4 542.0,1354.1 542.8,1352.2 544.2,1343.2 545.5,1331.1 547.2,1309.4 555.5,1309.2 557.2,1321.3 558.8,1326.2 559.0,1326.4 564.8,1326.2 565.0,1326.1 565.5,1325.0 566.5,1321.3 568.2,1308.8 575.2,1308.6 577.2,1353.7 579.0,1383.1 580.0,1395.5 581.0,1404.4 582.0,1409.9 582.8,1411.5 583.0,1411.4 583.5,1409.9 584.2,1404.8 585.8,1384.7 587.2,1352.3 588.8,1308.2 589.2,1308.2 589.5,1311.3 590.8,1344.6 591.8,1362.7 592.5,1371.0 593.2,1374.4 593.5,1374.3 594.0,1373.4 594.8,1370.4 596.2,1358.9 597.8,1340.3 599.8,1307.9 600.0,1307.9 600.2,1309.0 602.5,1328.7 604.2,1335.8 604.8,1337.1 605.2,1337.7 610.0,1333.8 610.8,1332.7 616.2,1307.9 617.0,1307.9 619.0,1328.3 620.0,1335.0 621.5,1340.5 623.5,1342.2 626.0,1350.4 626.8,1347.5 627.5,1342.2 631.2,1308.4 631.5,1307.9 639.5,1307.9 641.0,1363.5 641.8,1378.7 642.2,1383.3 642.5,1383.6 643.0,1380.3 643.8,1366.6 645.2,1311.2 645.5,1307.9 646.2,1307.9 649.0,1352.6 651.5,1383.3 652.8,1394.2 654.0,1402.1 655.2,1406.7 655.8,1407.6 656.2,1407.8 657.0,1405.9 657.8,1401.2 659.5,1380.4 661.0,1352.1 662.8,1307.9 667.2,1307.9 669.2,1329.3 670.8,1341.2 672.2,1348.8 673.0,1350.9 673.8,1351.9 674.2,1351.6 675.0,1349.5 676.2,1342.0 677.5,1329.9 679.0,1309.5 679.2,1310.2 681.5,1340.0 682.8,1347.2 684.2,1352.4 684.8,1352.7 687.0,1353.5 689.2,1357.2 690.0,1357.8 691.0,1351.9 696.2,1307.9 702.2,1307.9 704.0,1357.5 704.8,1368.7 705.2,1371.3 705.5,1371.0 706.0,1367.9 706.8,1357.7 708.5,1310.2 708.8,1307.9 709.0,1307.9 709.2,1308.4 712.5,1358.5 715.0,1386.3 716.5,1398.4 717.8,1405.7 719.0,1410.4 719.8,1411.8 720.2,1412.2 720.8,1411.9 721.2,1410.6 722.2,1405.6 723.2,1397.5 724.2,1386.3 726.2,1355.3 728.5,1307.9 729.2,1307.9 731.0,1329.9 732.8,1345.7 734.0,1353.0 735.0,1356.3 735.5,1357.1 735.8,1357.2 736.0,1357.0 736.5,1354.6 737.0,1349.9 739.0,1313.3 742.5,1341.4 745.2,1354.1 746.2,1356.8 751.8,1357.2 752.5,1354.9 753.5,1349.6 759.8,1307.9 765.0,1307.9 767.0,1358.1 768.0,1371.9 768.8,1375.6 769.0,1375.3 769.5,1372.0 770.2,1361.2 772.2,1307.9 775.0,1307.9 777.2,1346.3 779.2,1372.2 780.2,1381.5 781.2,1388.4 782.2,1392.7 782.8,1393.8 783.2,1394.1 784.0,1392.6 784.8,1388.6 786.5,1370.7 788.0,1346.4 789.8,1307.9 791.5,1307.9 791.8,1308.4 793.8,1332.2 795.5,1347.3 797.2,1356.7 798.2,1359.4 799.0,1359.9 799.5,1359.0 800.0,1357.1 801.2,1347.6 802.5,1332.1 804.0,1307.9 805.2,1308.1 806.8,1328.2 808.2,1342.9 809.8,1352.0 810.5,1354.3 811.0,1354.9 811.2,1354.9 811.8,1354.3 812.5,1352.0 814.0,1343.0 815.5,1328.3 817.0,1308.2 817.2,1307.9 828.8,1307.9 830.2,1339.7 831.5,1359.7 832.8,1372.5 833.5,1376.4 834.0,1377.4 834.5,1376.8 835.2,1373.5 836.5,1362.4 837.8,1344.6 839.5,1309.0 839.8,1307.9 840.0,1308.9 841.5,1330.5 842.8,1344.1 844.0,1353.4 845.2,1358.4 845.8,1359.0 846.0,1358.9 846.8,1357.5 847.5,1354.3 848.5,1347.6 850.0,1332.5 851.8,1307.9 855.2,1307.9 857.0,1330.6 858.5,1345.0 860.2,1355.7 861.0,1358.0 861.8,1359.0 862.2,1358.5 863.0,1355.9 864.2,1347.0 865.5,1332.7 867.0,1308.7 867.2,1307.9 869.2,1307.9 871.8,1338.6 873.0,1347.0 873.5,1348.6 874.0,1349.2 874.5,1348.7 875.2,1346.4 876.5,1339.0 879.2,1309.8 880.5,1312.5 881.5,1313.0 883.8,1313.6 887.0,1313.7 889.0,1313.3 892.2,1315.2 893.0,1314.6 894.0,1313.0 895.0,1311.1 896.2,1307.9 904.8,1307.9 906.0,1316.2 907.0,1321.2 908.2,1325.2 909.2,1326.4 909.8,1326.2 910.2,1325.5 911.5,1322.0 912.5,1317.3 914.0,1307.9 914.8,1307.9 916.5,1319.1 917.8,1322.3 918.2,1323.2 918.8,1323.4 922.5,1323.4 923.2,1322.2 924.5,1318.8 926.2,1307.9 931.0,1307.9 931.2,1308.2 932.8,1318.3 934.0,1324.1 935.2,1327.6 935.8,1328.2 936.2,1328.4 936.8,1328.1 937.5,1326.9 938.8,1323.1 940.0,1317.2 941.5,1307.9 942.5,1307.9 942.8,1308.0 945.0,1324.1 947.0,1332.8 947.5,1333.5 950.5,1333.6 953.0,1335.7 953.2,1335.7 953.5,1334.9 954.0,1332.4 957.8,1308.2 958.0,1307.9 959.2,1318.4 960.5,1326.6 961.8,1331.8 962.5,1333.4 963.0,1333.8 963.5,1333.5 964.2,1332.1 965.5,1327.6 966.8,1320.3 968.2,1308.0 968.5,1307.9 969.5,1307.9 971.0,1313.7 972.0,1316.6 973.2,1318.8 974.2,1319.3 975.2,1318.5 976.5,1316.1 977.5,1313.0 978.8,1307.9 985.8,1307.9 986.0,1308.4 987.5,1320.5 988.8,1327.7 990.0,1332.2 990.8,1333.5 991.2,1333.8 991.8,1333.4 992.5,1331.9 993.8,1327.1 995.0,1319.6 996.5,1307.9 1006.8,1307.9 1009.2,1338.2 1011.0,1354.4 1012.0,1361.2 1013.0,1366.0 1014.0,1368.9 1014.8,1369.6 1015.2,1368.9 1016.0,1365.6 1017.2,1354.5 1018.5,1336.9 1020.0,1307.9 1021.8,1307.9 1022.0,1308.6 1023.5,1330.4 1025.0,1346.4 1026.5,1356.1 1027.2,1358.6 1027.8,1359.2 1028.5,1358.6 1029.2,1356.5 1031.0,1346.5 1032.5,1332.4 1034.5,1307.9 1035.0,1307.9 1036.5,1319.7 1037.8,1326.6 1038.8,1329.8 1039.2,1330.6 1039.8,1330.8 1040.2,1330.3 1040.8,1329.3 1042.0,1324.3 1044.2,1307.9 1049.8,1307.9 1052.5,1353.2 1054.5,1375.6 1054.8,1377.1 1055.5,1379.0 1056.2,1380.3 1056.8,1380.6 1059.2,1372.3 1059.8,1374.1 1061.8,1386.4 1062.0,1386.2 1062.2,1384.5 1063.2,1373.2 1067.2,1310.5 1067.5,1307.9 1069.0,1307.9 1071.5,1349.8 1073.5,1375.0 1075.5,1391.2 1076.5,1395.6 1077.0,1396.9 1077.5,1397.5 1077.8,1397.4 1078.2,1396.2 1079.0,1391.7 1080.5,1374.3 1082.0,1346.2 1083.5,1307.9 1084.8,1307.9 1087.0,1348.4 1088.8,1370.5 1090.2,1381.3 1091.0,1383.7 1091.5,1384.0 1092.2,1382.6 1093.0,1379.2 1094.8,1364.2 1096.5,1340.0 1098.2,1307.9 1114.5,1307.9 1114.8,1309.0 1117.5,1363.4 1119.8,1395.8 1121.0,1408.9 1122.2,1418.4 1123.5,1424.1 1124.0,1425.2 1124.5,1425.7 1124.8,1425.5 1125.2,1423.8 1126.0,1418.7 1127.5,1399.3 1129.0,1368.4 1131.0,1310.2 1131.2,1307.9 1131.5,1308.7 1134.2,1362.9 1136.5,1395.1 1137.8,1408.2 1139.0,1417.7 1140.2,1423.4 1140.8,1424.5 1141.2,1425.0 1141.5,1424.8 1142.0,1423.2 1142.8,1418.2 1144.5,1394.6 1146.0,1362.2 1148.0,1307.9 1148.2,1307.9 1148.5,1308.3 1150.5,1358.4 1152.5,1393.6 1154.2,1411.6 1155.0,1415.4 1155.5,1416.6 1155.8,1416.7 1156.5,1416.1 1157.2,1414.6 1158.8,1409.1 1160.2,1400.5 1161.8,1388.9 1164.8,1357.1 1168.2,1307.9 1178.8,1307.9 1181.0,1361.2 1183.0,1397.2 1184.0,1409.9 1185.0,1419.1 1186.0,1424.4 1186.8,1425.7 1187.5,1423.4 1188.2,1417.6 1189.8,1396.3 1191.2,1362.5 1193.0,1311.3 1194.8,1356.9 1196.5,1393.9 1197.2,1405.6 1198.0,1411.2 1198.8,1414.9 1199.5,1414.3 1201.2,1411.9 1202.0,1411.2 1202.8,1412.9 1204.2,1418.7 1205.0,1420.6 1205.5,1417.8 1207.5,1392.0 1211.5,1310.0 1211.8,1307.9 1212.2,1307.9 1215.8,1386.5 1217.0,1406.0 1218.0,1411.0 1219.0,1414.1 1220.0,1413.6 1223.0,1410.4 1223.5,1410.3 1224.2,1411.2 1226.5,1415.5 1228.5,1422.0 1229.2,1423.6 1230.2,1414.9 1231.8,1393.9 1236.5,1307.9 1238.2,1307.9 1238.5,1308.8 1242.2,1363.8 1244.0,1383.3 1245.8,1398.8 1247.0,1407.4 1248.2,1413.8 1249.5,1417.9 1250.2,1419.2 1250.8,1419.6 1251.0,1419.6 1251.5,1418.1 1252.2,1412.7 1253.8,1391.3 1255.2,1356.5 1256.8,1308.9 1259.2,1357.0 1261.0,1378.3 1262.0,1385.7 1262.8,1380.2 1264.5,1359.0 1265.0,1355.1 1265.5,1353.0 1266.2,1350.4 1267.0,1348.8 1270.2,1351.6 1270.5,1351.7 1270.8,1350.8 1271.5,1345.1 1275.2,1307.9 1278.2,1346.8 1280.8,1371.5 1282.0,1380.5 1283.2,1387.2 1284.5,1391.5 1285.2,1392.8 1285.8,1393.2 1286.0,1393.1 1286.5,1392.0 1287.2,1388.3 1288.8,1373.6 1290.2,1349.9 1292.2,1307.9 1292.8,1307.9 1293.0,1310.5 1294.5,1348.6 1295.2,1359.0 1296.0,1363.3 1296.5,1362.8 1297.2,1360.3 1298.8,1349.1 1300.0,1333.9 1301.5,1309.1 1301.8,1307.9 1302.2,1307.9 1302.5,1309.5 1305.2,1334.1 1307.8,1344.2 1308.5,1345.8 1312.5,1344.1 1315.5,1347.7 1315.8,1347.7 1316.0,1346.8 1316.5,1344.0 1318.5,1329.2 1320.2,1321.7 1321.0,1319.9 1324.8,1319.7 1325.0,1319.4 1326.2,1315.3 1327.8,1307.9 1329.2,1307.9 1329.5,1308.2 1330.5,1315.1 1331.5,1320.1 1332.5,1323.2 1333.0,1323.9 1333.5,1324.1 1334.5,1323.0 1335.8,1319.5 1338.0,1307.9 1340.5,1307.9 1342.5,1331.7 1344.0,1345.1 1345.8,1354.7 1346.5,1356.7 1347.2,1357.2 1347.8,1356.7 1348.5,1354.7 1350.0,1347.0 1351.8,1331.8 1353.8,1307.9 1354.5,1307.9 1354.8,1308.2 1357.2,1339.2 1359.2,1358.6 1360.8,1369.5 1361.8,1373.0 1362.5,1374.6 1363.2,1372.2 1364.8,1363.0 1365.5,1359.8 1368.5,1357.8 1368.8,1357.5 1369.0,1356.1 1370.0,1347.4 1373.2,1308.8 1373.5,1307.9 1376.2,1307.9 1378.8,1337.0 1380.8,1354.8 1382.8,1366.1 1383.8,1369.3 1384.8,1370.6 1385.2,1370.2 1386.0,1367.0 1387.2,1355.3 1388.2,1340.7 1390.0,1307.9 1393.0,1307.9 1394.2,1332.6 1395.2,1347.2 1396.5,1358.7 1397.0,1361.1 1397.5,1362.2 1398.0,1361.8 1398.8,1359.5 1400.2,1349.1 1401.8,1331.5 1403.2,1307.9 1422.8,1307.9 1424.5,1353.4 1426.0,1383.1 1427.5,1401.1 1428.2,1405.3 1428.8,1406.2 1429.2,1405.1 1430.0,1399.7 1431.2,1382.0 1432.5,1354.0 1434.0,1307.9 1435.8,1307.9 1436.0,1308.9 1439.2,1367.9 1441.8,1400.6 1443.2,1414.8 1444.5,1423.4 1445.8,1428.9 1446.5,1430.6 1447.0,1431.0 1447.2,1430.9 1447.8,1429.5 1448.5,1424.8 1450.2,1402.2 1452.0,1364.6 1454.0,1307.9 1458.8,1405.5 1459.2,1413.1 1460.2,1420.3 1461.5,1425.9 1462.8,1425.4 1464.2,1424.4 1467.2,1419.6 1468.0,1418.8 1468.2,1419.0 1469.5,1421.0 1472.5,1427.6 1473.2,1428.7 1474.5,1419.0 1476.5,1393.5 1478.5,1361.0 1481.2,1307.9 1484.2,1307.9 1486.2,1350.8 1487.5,1371.5 1489.0,1387.2 1489.8,1391.0 1490.2,1391.8 1490.8,1390.6 1491.2,1386.8 1492.2,1372.1 1493.2,1348.5 1494.5,1307.9 1499.0,1307.9 1499.2,1309.0 1502.5,1370.4 1505.0,1404.4 1506.5,1419.1 1507.8,1428.0 1509.0,1433.7 1509.8,1435.5 1510.2,1436.0 1510.5,1435.9 1511.0,1434.7 1512.0,1428.5 1513.0,1417.8 1514.0,1402.7 1515.8,1366.2 1517.8,1309.2 1521.0,1384.8 1522.2,1406.2 1523.5,1421.5 1523.8,1423.3 1525.8,1425.4 1529.8,1433.1 1531.2,1435.0 1532.5,1423.3 1535.5,1376.1 1536.8,1363.7 1537.2,1365.5 1538.0,1370.5 1540.5,1391.9 1541.2,1395.8 1541.5,1394.7 1542.8,1371.9 1545.0,1307.9 1564.0,1307.9 1566.5,1355.8 1568.2,1384.9 1569.0,1393.9 1569.2,1395.7 1570.0,1395.1 1572.2,1391.9 1572.8,1391.5 1573.0,1391.8 1574.0,1394.5 1575.8,1401.0 1576.2,1402.4 1576.8,1403.1 1577.8,1393.8 1579.5,1369.2 1583.0,1312.5 1583.2,1313.3 1585.0,1347.9 1586.8,1371.5 1587.0,1372.7 1589.0,1371.1 1589.5,1371.0 1592.2,1379.5 1592.5,1379.4 1592.8,1377.5 1593.2,1371.8 1597.8,1307.9 1598.2,1307.9 1600.0,1331.8 1601.2,1344.2 1602.5,1351.7 1603.0,1353.2 1603.5,1353.9 1604.0,1353.5 1604.8,1351.4 1606.2,1342.1 1607.5,1329.5 1609.0,1308.9 1609.2,1307.9 1612.0,1307.9 1613.5,1325.1 1614.5,1333.7 1615.8,1340.3 1616.2,1341.5 1616.8,1341.8 1617.2,1341.1 1617.8,1339.6 1619.0,1332.3 1620.0,1323.2 1621.2,1307.9 1627.5,1307.9 1628.8,1337.7 1630.0,1359.4 1631.2,1371.9 1631.8,1374.2 1632.0,1374.6 1632.2,1374.6 1632.8,1373.8 1633.5,1370.7 1635.0,1358.8 1636.5,1339.5 1638.2,1308.1 1638.5,1307.9 1652.0,1307.9 1654.0,1311.2 1654.8,1311.8 1655.5,1312.0 1656.2,1311.8 1657.0,1311.0 1658.8,1307.9 1663.8,1307.9 1665.2,1326.3 1666.5,1338.2 1667.8,1345.8 1668.5,1348.2 1669.0,1348.8 1669.5,1348.5 1670.2,1346.6 1671.8,1338.4 1673.0,1327.2 1674.5,1308.9 1674.8,1307.9 1688.8,1307.9 1689.0,1308.3 1690.5,1328.4 1691.8,1340.1 1693.0,1347.0 1693.5,1348.4 1694.0,1348.8 1694.5,1348.3 1695.2,1346.5 1696.8,1338.8 1698.0,1328.7 1700.0,1307.9 1703.0,1307.9 1704.8,1333.4 1706.2,1350.2 1707.8,1360.3 1708.5,1362.8 1709.0,1363.3 1709.5,1362.2 1710.0,1359.2 1711.0,1348.1 1713.0,1307.9 1715.0,1307.9 1717.0,1339.4 1718.0,1348.0 1718.5,1350.2 1719.0,1350.9 1719.5,1350.4 1720.2,1347.9 1721.5,1340.1 1722.8,1327.7 1724.2,1307.9 1726.8,1307.9 1729.8,1341.3 1732.5,1364.2 1734.0,1373.1 1735.2,1378.5 1736.8,1382.6 1737.5,1383.5 1738.0,1383.7 1738.5,1382.8 1739.2,1379.4 1740.8,1365.2 1742.2,1342.0 1743.8,1310.1 1744.0,1310.5 1746.0,1337.3 1746.8,1344.0 1747.0,1345.4 1747.2,1345.4 1749.0,1333.8 1750.5,1326.6 1751.2,1324.3 1752.8,1321.8 1753.8,1320.7 1757.2,1321.2 1758.0,1319.3 1759.8,1312.8 1761.8,1308.0 1765.2,1307.9 1765.5,1308.9 1767.2,1337.7 1768.5,1352.1 1769.8,1361.1 1770.5,1363.7 1771.0,1364.2 1771.5,1363.2 1772.0,1360.8 1773.0,1352.0 1774.2,1334.0 1775.5,1308.6 1775.8,1307.9 1776.8,1307.9 1778.8,1334.2 1780.2,1348.2 1781.5,1355.4 1782.2,1357.5 1782.8,1357.9 1783.2,1357.4 1784.0,1355.2 1785.5,1346.0 1786.8,1333.8 1788.8,1307.9 1791.5,1307.9 1793.5,1341.2 1795.0,1360.7 1796.8,1374.8 1797.5,1377.7 1798.0,1378.6 1798.2,1378.7 1798.8,1377.7 1799.5,1373.6 1800.8,1360.5 1802.0,1339.9 1803.5,1307.9 1804.5,1307.9 1806.5,1340.0 1808.2,1361.7 1810.0,1375.5 1811.0,1379.6 1811.8,1380.7 1812.5,1379.9 1813.5,1376.0 1815.2,1362.8 1817.0,1341.5 1819.0,1308.0 1826.5,1307.9 1829.0,1333.8 1831.0,1349.4 1833.0,1359.4 1834.0,1362.1 1835.0,1363.3 1835.2,1363.2 1835.8,1362.5 1836.5,1359.7 1838.0,1349.0 1839.5,1331.6 1841.0,1308.0 1841.2,1307.9 1842.5,1322.2 1843.8,1332.6 1844.8,1337.7 1845.2,1339.1 1845.8,1339.8 1846.2,1339.6 1847.0,1338.0 1848.2,1332.6 1849.5,1323.7 1851.2,1307.9 1854.8,1307.9 1856.2,1332.7 1857.5,1347.6 1858.8,1356.9 1859.5,1359.7 1860.0,1360.3 1860.5,1359.5 1861.0,1357.4 1862.2,1346.7 1864.8,1307.9 1868.5,1307.9 1870.5,1339.0 1872.5,1363.8 1874.8,1384.0 1876.0,1391.5 1876.2,1392.7 1876.5,1392.9 1877.5,1388.7 1879.5,1377.0 1880.2,1374.4 1881.0,1374.7 1883.8,1376.9 1884.2,1375.8 1885.8,1368.3 1890.2,1339.1 1890.5,1338.7 1894.8,1338.2 1896.0,1332.4 1898.5,1315.9 1900.5,1308.2 1900.8,1307.9 1905.0,1307.9 1907.0,1309.8 1908.5,1310.3 1910.0,1309.7 1911.8,1307.9 1916.2,1307.9 1918.0,1333.8 1919.5,1350.7 1921.2,1363.2 1922.0,1366.1 1922.8,1367.3 1923.2,1366.9 1924.0,1364.0 1925.2,1353.8 1926.5,1337.3 1928.2,1307.9 1932.2,1307.9 1932.5,1309.2 1935.8,1373.8 1937.0,1391.3 1938.0,1401.2 1938.5,1402.2 1941.8,1404.7 1945.2,1411.5 1946.8,1413.5 1947.2,1410.4 1948.0,1401.0 1950.8,1351.8 1952.0,1337.0 1952.2,1337.1 1952.8,1340.3 1955.0,1363.7 1956.0,1370.5 1957.0,1363.7 1958.2,1350.6 1961.0,1307.9 1963.8,1307.9 1965.8,1318.9 1967.2,1325.3 1969.0,1329.8 1969.8,1330.8 1970.5,1331.1 1971.2,1329.9 1972.2,1325.6 1974.5,1307.9 1980.0,1307.9 1980.2,1308.2 1982.0,1342.9 1983.5,1364.8 1985.2,1380.9 1986.0,1384.4 1986.8,1385.8 1987.2,1384.8 1987.8,1381.8 1989.0,1366.2 1991.5,1307.9 1996.5,1307.9 1999.2,1353.6 2001.8,1383.8 2004.5,1406.0 2006.0,1414.6 2008.0,1423.6 2008.8,1416.2 2009.5,1404.8 2013.0,1333.7 2013.8,1322.2 2014.5,1314.5 2015.2,1321.8 2017.5,1364.5 2018.5,1376.3 2020.2,1366.6 2021.8,1353.7 2023.2,1334.7 2024.8,1308.0 2025.0,1307.9 2027.0,1307.9 2029.0,1325.9 2030.5,1336.3 2032.2,1343.8 2033.0,1345.4 2033.8,1345.8 2034.2,1345.3 2035.0,1343.0 2036.2,1335.9 2037.5,1324.8 2039.0,1307.9 2040.8,1307.9 2042.8,1334.5 2044.0,1345.7 2045.0,1351.7 2045.2,1351.8 2045.8,1351.5 2048.0,1349.4 2049.0,1348.8 2052.2,1353.2 2053.5,1346.3 2058.2,1307.9 2061.0,1307.9 2063.8,1351.7 2066.0,1379.0 2067.2,1389.7 2068.2,1395.9 2069.2,1399.9 2069.8,1401.0 2070.2,1401.5 2070.5,1401.4 2071.0,1400.0 2071.8,1395.2 2073.2,1376.8 2074.8,1347.2 2076.2,1307.9 2076.8,1308.1 2078.0,1338.3 2079.2,1359.8 2080.2,1370.4 2080.8,1373.4 2081.2,1374.7 2081.8,1374.1 2082.5,1370.8 2083.8,1359.2 2085.0,1340.6 2086.5,1309.4 2086.8,1307.9 2087.2,1307.9 2087.5,1309.0 2089.0,1319.0 2090.0,1323.3 2091.8,1324.8 2093.2,1325.5 2096.0,1325.5 2096.2,1325.2 2097.0,1322.8 2098.8,1314.6 2099.5,1312.5 2101.2,1311.6 2102.8,1311.3 2105.2,1312.9 2106.0,1313.2 2107.5,1311.4 2109.2,1307.9 2113.0,1307.9 2115.5,1326.4 2116.8,1331.4 2117.2,1332.4 2117.8,1332.7 2118.2,1332.4 2119.0,1331.0 2120.2,1326.5 2121.5,1319.4 2123.0,1307.9 2125.8,1307.9 2127.8,1332.5 2129.2,1346.5 2131.0,1356.5 2131.8,1358.6 2132.5,1359.2 2133.0,1358.6 2133.8,1356.1 2135.2,1346.3 2136.8,1330.4 2138.2,1308.5 2138.5,1307.9 2138.8,1308.9 2140.5,1331.7 2141.8,1343.5 2143.2,1352.5 2144.0,1354.7 2144.5,1355.2 2145.2,1354.6 2146.0,1352.6 2147.8,1343.3 2149.2,1330.3 2151.2,1308.3 2153.0,1312.0 2153.8,1312.7 2154.5,1313.0 2155.2,1312.6 2156.0,1311.7 2157.8,1307.9 2161.2,1307.9 2162.8,1320.4 2163.8,1326.7 2165.0,1331.5 2165.5,1332.4 2166.0,1332.7 2166.5,1332.2 2167.0,1331.1 2168.2,1325.8 2169.2,1319.2 2170.5,1307.9 2178.5,1307.9 2180.5,1353.4 2181.8,1375.1 2182.0,1377.6 2183.0,1382.7 2183.8,1385.8 2184.5,1387.7 2185.2,1385.4 2187.0,1376.4 2187.8,1373.9 2189.0,1374.1 2191.8,1375.0 2196.0,1377.3 2196.2,1377.4 2196.5,1376.4 2197.8,1365.2 2199.5,1343.0 2201.5,1308.2 2201.8,1307.9 2203.5,1307.9 2204.2,1310.9 2208.0,1339.8 2209.2,1346.4 2209.5,1346.6 2210.0,1344.9 2212.0,1334.0 2213.0,1330.7"/>
<text class="tk" text-anchor="middle" transform="translate(241.2,1535.7) scale(0.95,1)">0</text>
<text class="tk" text-anchor="middle" transform="translate(565.7,1535.7) scale(0.95,1)">200</text>
<text class="tk" text-anchor="middle" transform="translate(893.6,1535.7) scale(0.95,1)">400</text>
<text class="tk" text-anchor="middle" transform="translate(1221.5,1535.7) scale(0.95,1)">600</text>
<text class="tk" text-anchor="middle" transform="translate(1549.5,1535.7) scale(0.95,1)">800</text>
<text class="tk" text-anchor="middle" transform="translate(1877.4,1535.7) scale(0.95,1)">1000</text>
<text class="tk" text-anchor="middle" transform="translate(2205.3,1535.7) scale(0.95,1)">1200</text>
<text class="tk" text-anchor="end" transform="translate(222.9,1354.1) scale(0.95,1)">50</text>
<text class="tk" text-anchor="end" transform="translate(224.6,1492.8) scale(0.95,1)">0</text>
<text class="ser ttl" y="1272.40"><tspan x="861.35" font-size="61.5" textLength="256.09" lengthAdjust="spacingAndGlyphs">Evolution</tspan> <tspan x="1135.71" font-size="61.5" textLength="53.96" lengthAdjust="spacingAndGlyphs">of</tspan> <tspan x="1205.40" font-size="61.5" textLength="266.87" lengthAdjust="spacingAndGlyphs">parameter</tspan> <tspan class="it" x="1492.85" font-size="63.5" textLength="33.55" lengthAdjust="spacingAndGlyphs">κ</tspan><tspan x="1527.53" font-size="70" textLength="22.72" lengthAdjust="spacingAndGlyphs">(</tspan><tspan class="it" x="1548.98" font-size="72" textLength="21.15" lengthAdjust="spacingAndGlyphs">t</tspan><tspan x="1573.27" font-size="70" textLength="20.36" lengthAdjust="spacingAndGlyphs">)</tspan></text>
<text class="ser lab" y="1601.60"><tspan x="1115.66" font-size="62.5" textLength="138.78" lengthAdjust="spacingAndGlyphs">Time</tspan> <tspan x="1274.90" font-size="68.5" textLength="19.98" lengthAdjust="spacingAndGlyphs">(</tspan><tspan x="1294.23" font-size="61.5" textLength="25.93" lengthAdjust="spacingAndGlyphs">s</tspan><tspan x="1320.01" font-size="68.5" textLength="21.00" lengthAdjust="spacingAndGlyphs">)</tspan></text>
<text class="ser lab" y="0" transform="translate(142.5,1440.5) rotate(-90)"><tspan class="it" x="-2.45" font-size="63.5" textLength="33.55" lengthAdjust="spacingAndGlyphs">κ</tspan><tspan x="32.23" font-size="70" textLength="22.72" lengthAdjust="spacingAndGlyphs">(</tspan><tspan class="it" x="53.68" font-size="72" textLength="21.15" lengthAdjust="spacingAndGlyphs">t</tspan><tspan x="77.97" font-size="70" textLength="20.36" lengthAdjust="spacingAndGlyphs">)</tspan></text>
</g>
</svg></body></html>
